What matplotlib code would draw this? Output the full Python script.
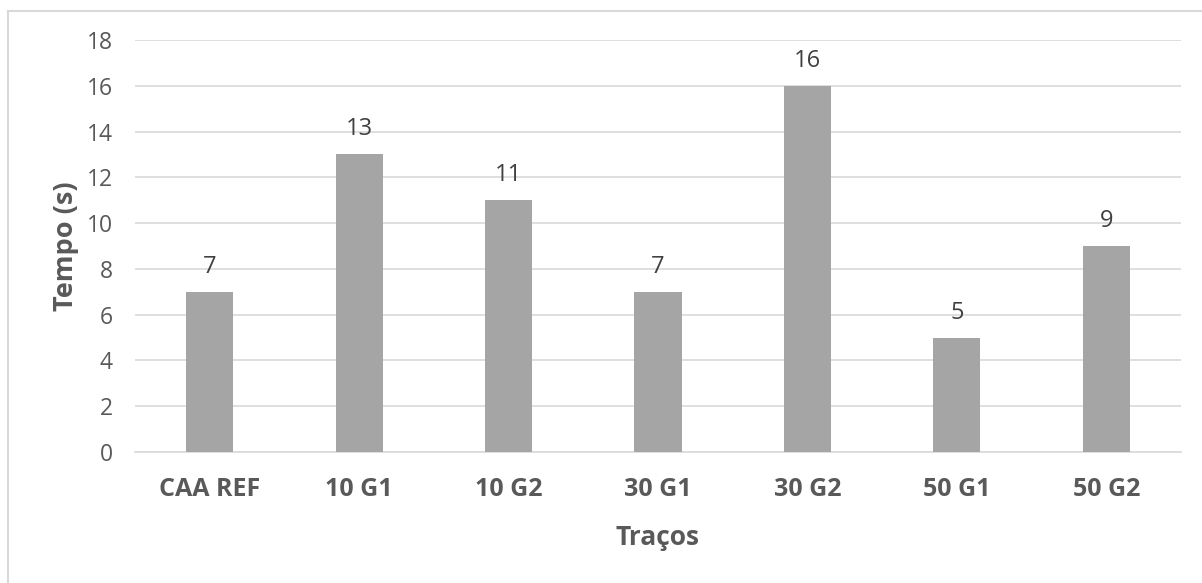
import matplotlib
matplotlib.use("Agg")
import matplotlib.pyplot as plt
from matplotlib.lines import Line2D

categories = ["CAA REF", "10 G1", "10 G2", "30 G1", "30 G2", "50 G1", "50 G2"]
tempo = [7, 13, 11, 7, 16, 5, 9]
y_ticks = [0, 2, 4, 6, 8, 10, 12, 14, 16, 18]

W, H = 1202, 583
plt.rcParams['font.family'] = ['Open Sans', 'DejaVu Sans']

fig = plt.figure(figsize=(W / 100, H / 100), dpi=100)
fig.patch.set_facecolor("white")

left, right, top, bottom = 135, 1181, 40, 452
ax = fig.add_axes([left / W, 1 - bottom / H, (right - left) / W, (bottom - top) / H])

x = range(len(categories))
bars = ax.bar(x, tempo, width=0.315, color="#A5A5A5", zorder=3)

ax.set_xlim(-0.5, len(categories) - 0.5)
ax.set_ylim(0, 18)
ax.set_yticks(y_ticks)
ax.set_xticks(list(x))
ax.set_xticklabels(categories, fontsize=18, fontweight="bold", color="#595959")
ax.tick_params(axis="y", labelsize=16.5, colors="#595959", length=0, pad=16)
ax.tick_params(axis="x", length=0, pad=18)

ax.grid(axis="y", color="#D9D9D9", linewidth=1.2, zorder=0)
for s in ["top", "right", "left"]:
    ax.spines[s].set_visible(False)
ax.spines["bottom"].set_color("#D9D9D9")
ax.spines["bottom"].set_linewidth(1.2)

for b, v in zip(bars, tempo):
    ax.annotate(str(v), (b.get_x() + b.get_width() / 2, v), xytext=(0, 18),
                textcoords="offset points", ha="center", va="center",
                fontsize=17, color="#404040")

ax.set_ylabel("Tempo (s)", fontsize=19.5, fontweight="bold", color="#595959", labelpad=5.5)
ax.set_xlabel("Traços", fontsize=19, fontweight="bold", color="#595959", labelpad=16)

# chart area border (top and left edges)
fig.add_artist(Line2D([8 / W, 1.0], [1 - 11 / H, 1 - 11 / H], color="#D9D9D9", linewidth=1.5))
fig.add_artist(Line2D([8 / W, 8 / W], [1 - 11 / H, 0], color="#D9D9D9", linewidth=1.5))

fig.savefig("out.png", dpi=100, facecolor="white")
